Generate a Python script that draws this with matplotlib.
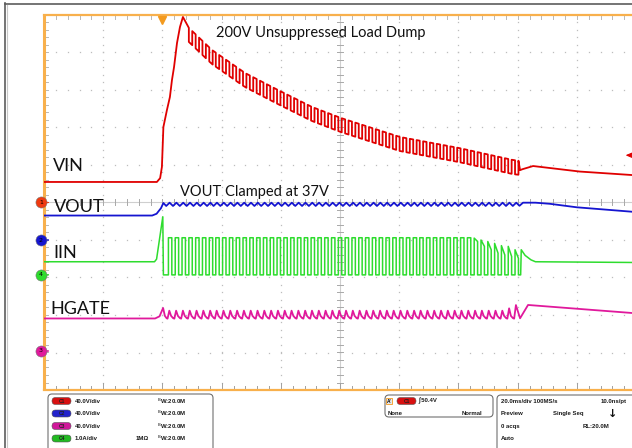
import numpy as np
import matplotlib.pyplot as plt
from matplotlib.lines import Line2D
from matplotlib.patches import FancyBboxPatch, Rectangle

# screen: 20 ms/div, trigger 2 div from the left, 10 x 10 divisions
t_left, t_right = -40, 160

# scale per div and ground position (div) of each channel
ch_scale = {'VIN': 40.0, 'VOUT': 40.0, 'HGATE': 40.0, 'IIN': 1.0}
ch_offset = {'VIN': 0.0, 'VOUT': -1.0, 'HGATE': -3.96, 'IIN': -1.93}
ch_color = {'VIN': '#e00000', 'VOUT': '#1515d0', 'HGATE': '#e0199c', 'IIN': '#2edc2e'}

# rising edges of the switching pulses (ms)
edges = [2.0, 4.3, 6.6, 8.9, 11.2, 13.5, 15.8, 18.0, 20.3, 22.6, 24.9, 27.2, 29.5,
         31.8, 34.1, 36.4, 38.7, 41.0, 43.3, 45.6, 47.9, 50.2, 52.5, 54.8, 57.1, 59.4,
         61.7, 64.0, 66.3, 68.6, 70.9, 73.2, 75.5, 77.8, 80.1, 82.4, 84.7, 86.9, 89.2,
         91.5, 93.8, 96.1, 98.4, 100.7, 103.0, 105.3, 107.6, 109.9, 112.2, 114.5, 116.8, 119.1]
pulse_w = 1.15

# VIN (V)
vin_rise_t = [-40, -1.9, -0.8, -0.2, 0.3, 1.5, 2.5, 3.2, 3.9, 4.9, 5.9, 6.9]
vin_rise_v = [21.9, 21.9, 26.0, 37.9, 80.5, 98.7, 112.5, 130.7, 144.5, 170.1, 187.2, 197.9]
vin_env_t = [6.9, 8.6, 16.7, 27.9, 39.0, 50.5, 60.3, 80.2, 100.2, 118.4, 121.1]
vin_env_v = [197.9, 187.2, 162.7, 138.1, 120.0, 101.9, 90.1, 69.9, 58.1, 45.3, 44.3]
vin_dip = 15.0
vin_tail_t = [120.8, 121.6, 125.2, 141.0, 160.0]
vin_tail_v = [34.5, 35.5, 38.9, 33.0, 29.0]

# VOUT (V)
vout_start_t = [-40, -3.5, -2.0, -0.5, 0.3]
vout_start_v = [26.1, 26.1, 28.0, 34.0, 39.5]
vout_pk, vout_tr = 39.8, 36.3
vout_tail_t = [120.6, 121.8, 126.0, 130.9, 139.9, 160.0]
vout_tail_v = [36.5, 39.8, 39.8, 38.6, 34.9, 29.8]

# IIN (A)
iin_start_t = [-40, -2.7, -2.0, 0.1, 0.3]
iin_start_i = [0.35, 0.35, 0.42, 1.55, 0.0]
iin_hi = 0.99
iin_sag_top = [0.98, 0.93, 0.89, 0.84, 0.78, 0.76, 0.67]
iin_sag_end = [0.89, 0.76, 0.67, 0.58, 0.53, 0.49, 0.44]
iin_tail_t = [120.3, 121.0, 121.2, 122.5, 124.5, 126.0, 160.0]
iin_tail_i = [0.0, 0.0, 0.67, 0.52, 0.40, 0.35, 0.33]

# HGATE (V)
hg_start_t = [-40, -2.5, -1.0, 0.2]
hg_start_v = [34.7, 34.7, 37.0, 45.9]
hg_pk, hg_tr = 43.0, 34.5
hg_last_pk = [45.5, 49.0]
hg_tail_t = [120.8, 123.5, 160.0]
hg_tail_v = [34.9, 49.1, 40.2]


def to_div(name, vals):
    return ch_offset[name] + np.array(vals) / ch_scale[name]


def vin_trace():
    t, v = list(vin_rise_t), list(vin_rise_v)
    for e in edges:
        if e < 7:
            continue
        a = np.interp(e, vin_env_t, vin_env_v)
        b = np.interp(e + pulse_w, vin_env_t, vin_env_v)
        t += [e, e, e + pulse_w, e + pulse_w]
        v += [a, a - vin_dip, b - vin_dip, b]
    return t + vin_tail_t, v + vin_tail_v


def iin_trace():
    t, i = list(iin_start_t), list(iin_start_i)
    n = len(edges)
    ns = len(iin_sag_top)
    for k, e in enumerate(edges):
        if k >= n - ns:
            top, end = iin_sag_top[k - n + ns], iin_sag_end[k - n + ns]
        else:
            top, end = iin_hi, iin_hi
        t += [e, e, e + pulse_w, e + pulse_w]
        i += [0.0, top, end, 0.0]
    return t + iin_tail_t, i + iin_tail_i


def vout_trace():
    t, v = list(vout_start_t), list(vout_start_v)
    for e in edges:
        t += [e - 0.75, e + 0.4]
        v += [vout_tr, vout_pk]
    return t + vout_tail_t, v + vout_tail_v


def hgate_trace():
    t, v = list(hg_start_t), list(hg_start_v)
    d = hg_pk - hg_tr
    t += [0.8, 1.4]
    v += [hg_tr + 0.35 * d, hg_tr + 0.05 * d]
    n = len(edges)
    for k, e in enumerate(edges):
        pk = hg_pk
        if k >= n - len(hg_last_pk):
            pk = hg_last_pk[k - n + len(hg_last_pk)]
        t += [e - 0.3, e + 0.3]
        v += [hg_tr, pk]
        if k < n - 1:
            t += [e + 0.9, e + 1.6]
            v += [hg_tr + 0.35 * d, hg_tr + 0.06 * d]
    return t + hg_tail_t, v + hg_tail_v


W, H = 632, 448
fig = plt.figure(figsize=(W / 100, H / 100), dpi=100)
fig.patch.set_facecolor('white')
inch = fig.dpi_scale_trans


def px(x, y):
    return x / 100, (H - y) / 100


ax = fig.add_axes([44.1 / W, (H - 390) / H, 592 / W, 375 / H])
ax.set_xlim(t_left, t_right)
ax.set_ylim(-5, 5)
ax.axis('off')

grid_c = '#bdbdbd'
# dotted graticule
for tx in [-20, 0, 20, 40, 80, 100, 120, 140]:
    yy = np.arange(-4.8, 5.0, 0.2)
    ax.plot(np.full_like(yy, tx), yy, ls='none', marker='s', ms=0.9, color=grid_c, mew=0)
for gy in [-4, -3, -2, -1, 1, 2, 3, 4]:
    xx = np.arange(-36, 160, 4)
    ax.plot(xx, np.full_like(xx, gy, dtype=float), ls='none', marker='s', ms=0.9, color=grid_c, mew=0)

# centre cross with minor ticks
ax.plot([60, 60], [-5, 5], color='#cfcfcf', lw=0.8)
ax.plot([t_left, t_right], [0, 0], color='#cfcfcf', lw=0.8)
for yy in np.arange(-4.8, 5.0, 0.2):
    ax.plot([58.9, 61.1], [yy, yy], color='#a8a8a8', lw=0.7)
    ax.plot([-40, -38.6], [yy, yy], color='#b8b8b8', lw=0.7)
for xx in np.arange(-36, 160, 4):
    ax.plot([xx, xx], [-0.08, 0.08], color='#a8a8a8', lw=0.7)
    ax.plot([xx, xx], [5, 4.9], color='#b8b8b8', lw=0.7)
    big = 0.18 if xx % 20 == 0 else 0.1
    ax.plot([xx, xx], [-5, -5 + big], color='#a0a0a0', lw=0.7)

# orange frame
org = '#f8b04c'
ax.plot([t_left, t_left], [-5, 5], color=org, lw=2.2, clip_on=False, solid_capstyle='butt')
ax.plot([t_left, t_right], [5, 5], color=org, lw=1.6, clip_on=False)
ax.plot([t_left, t_right], [-5, -5], color=org, lw=1.6, clip_on=False)
ax.plot([0], [4.87], marker='v', ms=6, color='#f39a1e', clip_on=False)

# traces
tv, vv = vin_trace()
ax.plot(tv, to_div('VIN', vv), color=ch_color['VIN'], lw=1.3)
tv, vv = vout_trace()
ax.plot(tv, to_div('VOUT', vv), color=ch_color['VOUT'], lw=1.3)
tv, vv = iin_trace()
ax.plot(tv, to_div('IIN', vv), color=ch_color['IIN'], lw=1.1)
tv, vv = hgate_trace()
ax.plot(tv, to_div('HGATE', vv), color=ch_color['HGATE'], lw=1.3)

# ground markers
for name, num in [('VIN', '1'), ('VOUT', '2'), ('IIN', '4'), ('HGATE', '3')]:
    y0 = ch_offset[name]
    c = ch_color[name] if name != 'VIN' else '#f03a10'
    ax.plot([-41.1], [y0], marker='o', ms=8, color=c, mec='#777777', mew=0.4, clip_on=False, zorder=5)
    ax.text(-41.1, y0, num, fontsize=4.5, ha='center', va='center', color='black', zorder=6)
    ax.annotate('', xy=(-37.6, y0), xytext=(-39.6, y0),
                arrowprops=dict(arrowstyle='-|>,head_width=0.15,head_length=0.3', color=c, lw=0.8),
                annotation_clip=False)

# trigger level arrow on the right
trig_v = 50.4
ax.annotate('', xy=(155.5, trig_v / 40), xytext=(158.6, trig_v / 40),
            arrowprops=dict(arrowstyle='-|>,head_width=0.15,head_length=0.35', color='#e00000', lw=0.8),
            annotation_clip=False)

# labels
lab = dict(family='Lato', color='#111111')
ax.text(-37.0, 0.84, 'VIN', fontsize=13, va='baseline', **lab)
ax.text(-36.7, -0.25, 'VOUT', fontsize=13, va='baseline', **lab)
ax.text(-37.0, -1.48, 'IIN', fontsize=13, va='baseline', **lab)
ax.text(-38.0, -2.97, 'HGATE', fontsize=13, va='baseline', **lab)
ax.text(18.1, 4.41, '200V Unsuppressed Load Dump', fontsize=10.5, va='baseline', **lab)
ax.text(5.9, 0.18, 'VOUT Clamped at 37V', fontsize=10.5, va='baseline', **lab)

# outer window frame
fig.add_artist(Line2D([0.045, 0.045], [0, (H - 3) / 100], transform=inch, color='#5c5c5c', lw=1.2))
fig.add_artist(Line2D([0.045, W / 100], [(H - 3.5) / 100] * 2, transform=inch, color='#5c5c5c', lw=1.2))
fig.add_artist(Line2D([0.065, 0.065], [0, (H - 5) / 100], transform=inch, color='#c8c8c8', lw=0.8))


# bottom info panel
def box(x0, y0, x1, y1):
    (a, b), (c, d) = px(x0, y1), px(x1, y0)
    fig.add_artist(FancyBboxPatch((a, b), c - a, d - b, boxstyle='round,pad=0,rounding_size=0.04',
                                  transform=inch, fc='white', ec='#707070', lw=0.8))


def pill(x, y, col, txt):
    a, b = px(x, y + 3.5)
    fig.add_artist(FancyBboxPatch((a, b), 0.19, 0.07, boxstyle='round,pad=0,rounding_size=0.035',
                                  transform=inch, fc=col, ec='#555555', lw=0.4))
    fig.text(*px(x + 9.5, y), txt, transform=inch, fontsize=3.5, ha='center', va='center',
             color='#202020', family='Liberation Sans', weight='bold')


def small(x, y, s, ha='left'):
    fig.text(*px(x, y), s, transform=inch, fontsize=4.3, ha=ha, va='center', color='#1a1a1a',
             family='Liberation Sans', weight='bold')


box(48, 394, 213, 470)
box(385, 395, 493, 417)
box(497, 395, 660, 470)

rows = [401, 413.5, 426, 438.5]
pills = [('#d81010', 'C1'), ('#2222cc', 'C2'), ('#d0189a', 'C3'), ('#22bb22', 'C4')]
scales = ['40.0V/div', '40.0V/div', '40.0V/div', '1.0A/div']
for (col, txt), sc, y in zip(pills, scales, rows):
    pill(52, y, col, txt)
    small(75, y, sc)
    small(157, y, r'$^{\mathrm{B}}$W:20.0M')
small(136, rows[3], '1M\u03a9')

fig.add_artist(Rectangle(px(386, 404), 0.06, 0.06, transform=inch,
                         fc='#e8e8e8', ec='#f39a1e', lw=0.6))
fig.text(*px(389, 401), "A'", transform=inch, fontsize=3.5, ha='center', va='center',
         family='Liberation Sans', weight='bold')
pill(397, 401, '#d81010', 'C1')
small(418, 401, '\u222b 50.4V')
small(388, 413.5, 'None')
small(482, 413.5, 'Normal', ha='right')

small(501, 401, '20.0ms/div 100MS/s')
small(627, 401, '10.0ns/pt', ha='right')
small(501, 413.5, 'Preview')
small(553, 413.5, 'Single Seq')
fig.text(*px(613, 414), '\u2193', transform=inch, fontsize=8, ha='center', va='center',
         weight='bold', color='#111111')
small(501, 426, '0 acqs')
small(583, 426, 'RL:20.0M')
small(501, 438.5, 'Auto')

fig.savefig('out.png', dpi=100)
